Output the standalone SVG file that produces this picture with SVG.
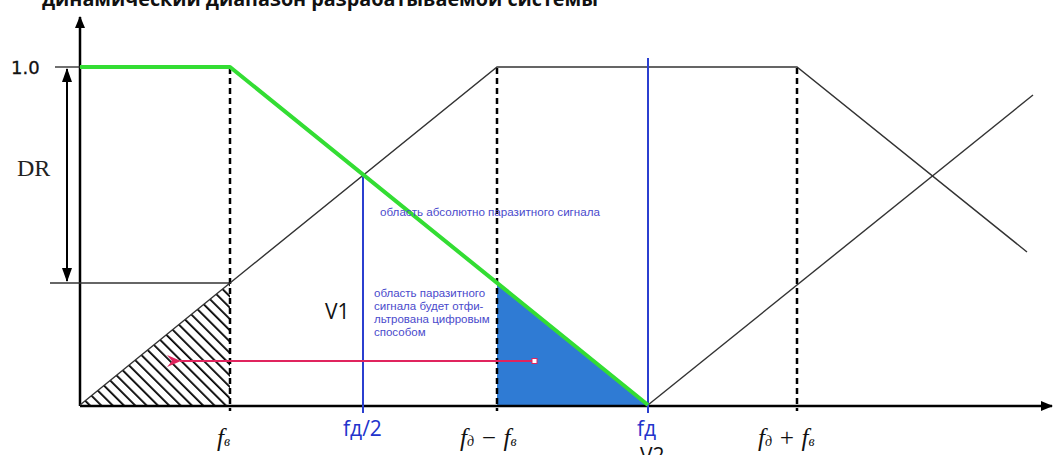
<svg xmlns="http://www.w3.org/2000/svg" width="1055" height="455" viewBox="0 0 1055 455">
<style>
.axis{stroke:#000;stroke-width:2.5;fill:none}
.thin{stroke:#333;stroke-width:1.4;fill:none}
.dash{stroke:#000;stroke-width:2.5;stroke-dasharray:6,4;fill:none}
.blue{stroke:#2b3fd0;stroke-width:2;fill:none}
.green{stroke:#33dd33;stroke-width:4;fill:none;stroke-linejoin:round}
.lbl{font-family:"Liberation Serif",serif;font-style:italic;font-size:25px;fill:#111}
.sub{font-size:14px}
.note{font-family:"Liberation Sans",Arial,sans-serif;font-size:11.5px;fill:#4a4acc}
.bl{font-family:"Open Sans","Liberation Sans",sans-serif;font-size:21px;fill:#2233cc}
</style>
<defs>
<marker id="ah" viewBox="0 0 12 10" refX="11" refY="5" markerWidth="12" markerHeight="10" markerUnits="userSpaceOnUse" orient="auto-start-reverse">
<path d="M0,0 L12,5 L0,10 Z" fill="#000"/>
</marker>
<marker id="dr" viewBox="0 0 14 10" refX="13" refY="5" markerWidth="14" markerHeight="10" markerUnits="userSpaceOnUse" orient="auto-start-reverse">
<path d="M0,0 L14,5 L0,10 Z" fill="#000"/>
</marker>
<marker id="red" viewBox="0 0 14 12" refX="1" refY="6" markerWidth="14" markerHeight="12" markerUnits="userSpaceOnUse" orient="auto">
<path d="M14,0 L0,6 L14,12 L9,6 Z" fill="#e0245e"/>
</marker>
<pattern id="hatch" patternUnits="userSpaceOnUse" width="8" height="8" patternTransform="rotate(-45)">
<line x1="0" y1="0" x2="0" y2="8" stroke="#000" stroke-width="3.6"/>
</pattern>
</defs>

<g id="title">
<text x="42" y="6" font-family="'Open Sans','Liberation Sans',sans-serif" font-weight="bold" font-size="19" fill="#111" textLength="556" lengthAdjust="spacingAndGlyphs">динамический диапазон разрабатываемой системы</text>
</g>

<g id="areas">
<polygon id="hatched" points="80,405 230,283 230,405" fill="url(#hatch)"/>
<polygon id="bluefill" points="497,283 497,405 648,405" fill="#2f7bd4"/>
</g>

<g id="connectors">
<line class="axis" x1="80" y1="406" x2="80" y2="17" marker-end="url(#ah)"/>
<line class="axis" x1="80" y1="406" x2="1052" y2="406" marker-end="url(#ah)"/>
<line class="thin" x1="55" y1="67" x2="80" y2="67"/>
<line class="thin" x1="50" y1="283" x2="230" y2="283"/>
<line stroke="#000" stroke-width="2" x1="67" y1="69" x2="67" y2="281" marker-start="url(#dr)" marker-end="url(#dr)"/>
<line class="dash" x1="230" y1="68" x2="230" y2="411"/>
<line class="dash" x1="497" y1="68" x2="497" y2="411"/>
<line class="dash" x1="797" y1="68" x2="797" y2="411"/>
<polyline class="thin" points="80,405 230,283 497,67 797,67 1027,252"/>
<line class="thin" x1="648" y1="405" x2="1033" y2="95"/>
<line class="blue" x1="363" y1="175" x2="363" y2="413"/>
<line class="blue" x1="648" y1="58" x2="648" y2="413"/>
<polyline class="green" points="80,67 230,67 648,405"/>
<line stroke="#e0245e" stroke-width="2" x1="535" y1="361" x2="180" y2="361" marker-end="url(#red)"/>
<rect x="532" y="358.5" width="5" height="5" fill="#fff" stroke="#e0245e" stroke-width="1"/>
</g>

<g id="ylabels">
<text x="11" y="74" font-family="'DejaVu Sans',sans-serif" font-size="18" fill="#111" stroke="#111" stroke-width="0.3">1.0</text>
<text x="17" y="176" font-family="'Liberation Serif',serif" font-size="24" fill="#222">DR</text>
</g>

<g id="notes">
<text class="note" x="380" y="216" textLength="220" lengthAdjust="spacingAndGlyphs">область абсолютно паразитного сигнала</text>
<text class="note" x="374" y="297">область  паразитного</text>
<text class="note" x="374" y="310">сигнала будет отфи-</text>
<text class="note" x="374" y="323">льтрована цифровым</text>
<text class="note" x="374" y="336">способом</text>
<text x="325" y="319" font-family="'Open Sans','Liberation Sans',sans-serif" font-size="21" fill="#111">V1</text>
</g>

<g id="xlabels">
<text class="lbl" x="217" y="446">f<tspan class="sub">в</tspan></text>
<text class="bl" x="343" y="436">fд/2</text>
<text class="lbl" x="460" y="446">f<tspan class="sub">д</tspan> − f<tspan class="sub">в</tspan></text>
<text class="bl" x="637" y="436">fд</text>
<text x="640" y="463" font-family="'Open Sans','Liberation Sans',sans-serif" font-size="21" fill="#111">V2</text>
<text class="lbl" x="758" y="446">f<tspan class="sub">д</tspan> + f<tspan class="sub">в</tspan></text>
</g>
</svg>
